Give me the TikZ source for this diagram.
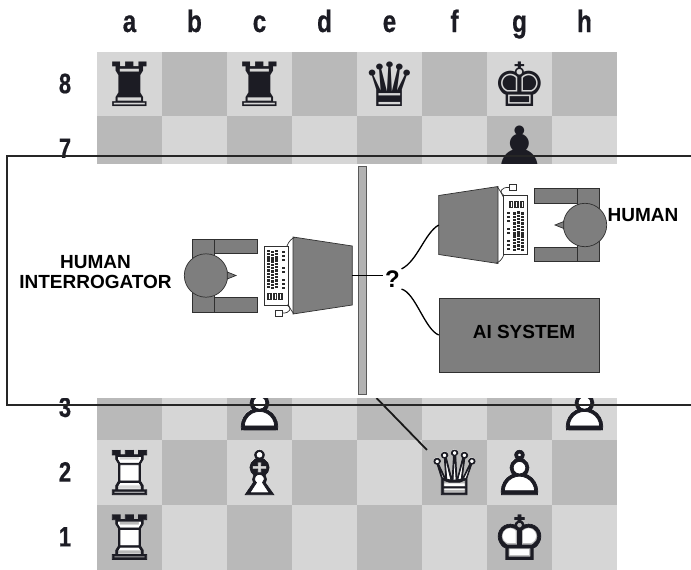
\documentclass[tikz,border=0pt]{standalone}
\usepackage{fontspec}
\setmainfont{Liberation Sans}
\newfontfamily\chessfont{DejaVu Sans}
\newfontfamily\chessoutline{DejaVu Sans}[FakeBold=1.2]
\newfontfamily\coordfont{Liberation Sans}[FakeStretch=0.78,FakeBold=0.6]

\definecolor{sqlight}{HTML}{D6D6D6}
\definecolor{sqdark}{HTML}{B9B9B9}
\definecolor{ink}{HTML}{1C1C24}
\definecolor{figfill}{HTML}{7E7E7E}
\definecolor{figline}{HTML}{303030}
\definecolor{wallfill}{HTML}{B2B2B2}
\definecolor{keyink}{HTML}{2A2A2A}

% white piece: solid white body under a heavier outlined glyph
\newcommand\whitepiece[2]{\rlap{\textcolor{white}{#1}}{\chessoutline #2}}

\tikzset{
  figure/.style={fill=figfill, draw=figline, line width=0.7pt},
  kbd/.style={fill=white, draw=figline, line width=0.6pt},
  keyc/.style={fill=keyink},
  cable/.style={draw=figline, line width=0.7pt},
  wire/.style={draw=black, line width=1.3pt},
  panel/.style={draw=black!85, line width=1.1pt},
  piece/.style={font=\chessfont\fontsize{61}{61}\selectfont, inner sep=0pt, text=ink},
  filelbl/.style={font=\coordfont\bfseries\fontsize{31}{31}\selectfont, text=ink, inner sep=0pt, anchor=base},
  ranklbl/.style={font=\coordfont\bfseries\fontsize{28}{28}\selectfont, text=ink, inner sep=0pt, anchor=base},
  lbl/.style={font=\bfseries\fontsize{19}{20}\selectfont, inner sep=0pt},
  qmark/.style={font=\bfseries\fontsize{24}{24}\selectfont, inner sep=1.5pt},
  aibox/.style={figure, minimum width=160pt, minimum height=74pt, inner sep=0pt},
  wall/.style={fill=wallfill, draw=figline!80, line width=0.6pt, minimum width=8pt, minimum height=228pt, inner sep=0pt},
  % a seated person at a terminal, seen from above
  station/.pic={
    % chair back and arms
    \path[figure] (-14,-36.5) rectangle (8,36.5);
    \path[figure] (8,-36.5) rectangle (51,-22);
    \path[figure] (8,22) rectangle (51,36.5);
    % person
    \path[figure] (0,0) circle[radius=21.7];
    \path[figure] (21.3,-3.5) -- (30,0) -- (21.3,3.5) -- cycle;
    % monitor
    \path[figure] (87,-38.5) -- (146.3,-29.5) -- (146.3,29.5) -- (87,38.5) -- cycle;
    % keyboard
    \path[kbd] (58,-29.5) rectangle (82,29.5);
    \foreach \i in {0,...,11}{
      \fill[keyc] (61,{-26+3.3*\i}) rectangle ++(3.2,2.4);
      \fill[keyc] (64.8,{-25+3.3*\i}) rectangle ++(3.2,2.4);
      \fill[keyc] (68.6,{-26+3.3*\i}) rectangle ++(3.2,2.4);
    }
    \foreach \yy in {-25,-21,-17,-9,-5,3,7,11}{\fill[keyc] (75.5,\yy) rectangle ++(3,2);}
    \foreach \xx in {61,66.5,72}{
      \fill[keyc] (\xx,17.5) rectangle ++(4.5,6.5);
      \draw[white, line width=0.5pt] ({\xx+2.25},18) -- ++(0,5.5);
    }
    % cables and plug
    \draw[cable] (81,-29.5) .. controls (83,-35) and (86,-37) .. (89,-38.2);
    \draw[cable] (81,29.5) .. controls (86,32) and (85,38) .. (76,37.5);
    \draw[cable] (82,28.5) .. controls (84,33) and (86,36) .. (88,38.3);
    \path[kbd] (69,34.5) rectangle (76,41);
    \coordinate (-back) at (146.3,0);
  }
}

\begin{document}
\begin{tikzpicture}[x=1pt,y=-1pt]
\useasboundingbox (0,0) rectangle (691,570);

% chess board
\foreach \c in {0,...,7}{
  \foreach \r in {0,...,7}{
    \pgfmathsetmacro{\odd}{int(mod(\c+\r,2))}
    \ifnum\odd=1 \def\sqc{sqdark}\else\def\sqc{sqlight}\fi
    \fill[fill=\sqc] ({97+65*\c},{51.5+64.75*\r}) rectangle ++(65,64.75);
  }
}

% file and rank labels
\foreach \f [count=\i from 0] in {a,b,c,d,e,f,g,h}
  \node[filelbl] (file-\f) at ({129.5+65*\i},32) {\f};
\node[ranklbl] (rank-8) at (65,93.2) {8};
\node[ranklbl] (rank-7) at (65,157.9) {7};
\node[ranklbl] (rank-3) at (65,416.9) {3};
\node[ranklbl] (rank-2) at (65,481.6) {2};
\node[ranklbl] (rank-1) at (65,546.4) {1};

% black pieces
\node[piece] (bRa8) at (129.5,83.9) {♜};
\node[piece] (bRc8) at (259.5,83.9) {♜};
\node[piece] (bQe8) at (389.5,83.9) {♛};
\node[piece] (bKg8) at (519.5,83.9) {♚};
\node[piece] (bPg7) at (519.5,148.6) {♟};
% white pieces
\node[piece] (wPc3) at (259.5,407.6) {\whitepiece{♟}{♙}};
\node[piece] (wPh3) at (584.5,407.6) {\whitepiece{♟}{♙}};
\node[piece] (wRa2) at (129.5,472.4) {\whitepiece{♜}{♖}};
\node[piece] (wBc2) at (259.5,472.4) {\whitepiece{♝}{♗}};
\node[piece] (wQf2) at (454.5,472.4) {\whitepiece{♛}{♕}};
\node[piece] (wPg2) at (519.5,472.4) {\whitepiece{♟}{♙}};
\node[piece] (wRa1) at (129.5,537.1) {\whitepiece{♜}{♖}};
\node[piece] (wKg1) at (519.5,537.1) {\whitepiece{♚}{♔}};

% link from the partition down to the queen
\coordinate (dstart) at (376.5,398);
\draw[draw=black!90, line width=1.8pt] (dstart) -- (wQf2.north west);

% white panel laid over the middle ranks
\fill[white] (0,163.5) rectangle (691,397.5);
\draw[panel] (700,156) -- (7,156) -- (7,405) -- (700,405);

% partition wall
\node[wall] (wall) at (362.5,280) {};

% interrogator and the hidden respondents
\pic (left) at (206,275.5) {station};
\pic[rotate=180] (right) at (585,225) {station};
\node[aibox] (ai) at (519,335) {};
\node[lbl, anchor=base] (aitext) at (524,338.3) {AI SYSTEM};

\node[qmark] (q) at (392.5,279) {?};
\draw[wire] (left-back) -- (q.west |- left-back);
\draw[wire] (q.north east) .. controls +(16,-8) and +(-14,8) .. (right-back);
\draw[wire] (q.south east) .. controls +(14,4) and +(-14,-6) .. (ai.west);

% labels
\node[lbl, align=center] (interrogator) at (95.5,272.5) {HUMAN\\INTERROGATOR};
\node[lbl, anchor=base] (human) at (643,221.7) {HUMAN};
\end{tikzpicture}
\end{document}
